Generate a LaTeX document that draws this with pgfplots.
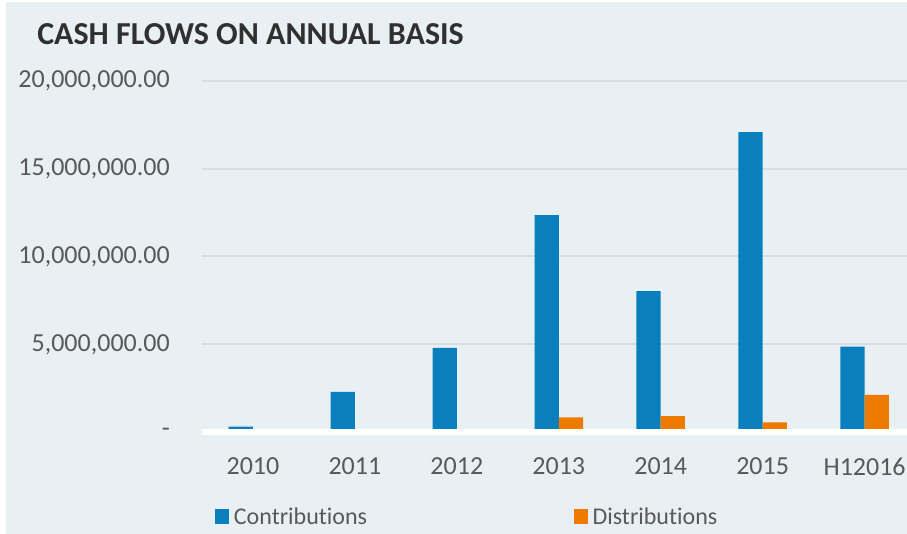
\documentclass[border=0pt]{standalone}
\usepackage{fontspec}
\setmainfont[Ligatures=NoCommon]{Carlito}
\usepackage{pgfplots}
\pgfplotsset{compat=1.18}

\definecolor{bgc}{HTML}{E8F0F3}
\definecolor{gridc}{HTML}{D7DEE2}
\definecolor{txt}{HTML}{595959}
\definecolor{ttl}{HTML}{303030}
\definecolor{contrib}{HTML}{0A7FBD}
\definecolor{distrib}{HTML}{EE7B00}

\begin{document}
\begin{tikzpicture}
\useasboundingbox (0,0) rectangle (680.25pt,400.5pt);
\fill[white] (0,0) rectangle (680.25pt,400.5pt);
\fill[bgc] (4.5pt,0) rectangle (680.25pt,399pt);
\node[anchor=base west, inner sep=0pt, font=\fontsize{24}{26}\selectfont\bfseries, text=ttl]
  at (27.75pt,366.75pt) {CASH FLOWS ON ANNUAL BASIS};
\begin{axis}[
  at={(151.5pt,76.5pt)}, anchor=south west,
  scale only axis,
  width=528.75pt, height=263.25pt,
  xmin=-0.5, xmax=6.416,
  ymin=0, ymax=20e6,
  scaled y ticks=false,
  axis line style={draw=none},
  clip=false,
  ybar=0pt,
  bar width=0.238,
  xtick={0,1,2,3,4,5,6},
  xticklabels={2010,2011,2012,2013,2014,2015,H12016},
  ytick={5e6,10e6,15e6,20e6},
  yticklabels={{5,000,000.00},{10,000,000.00},{15,000,000.00},{20,000,000.00}},
  extra y ticks={0},
  extra y tick labels={-\hspace{9pt}},
  extra y tick style={grid=none},
  ymajorgrids,
  major grid style={draw=gridc, line width=1.5pt},
  major tick length=0pt,
  tick style={draw=none},
  tick label style={font=\fontsize{19.5}{22}\selectfont, text=txt, inner sep=0pt},
  yticklabel style={anchor=east, xshift=-24pt},
  xticklabel style={anchor=north, yshift=-19pt},
  legend columns=2,
  legend style={at={(6.75pt,-63.6pt)}, anchor=west, draw=none, fill=none,
    font=\fontsize{18}{20}\selectfont, text=txt,
    /tikz/every odd column/.style={column sep=1.5pt}},
  legend image code/.code={\fill[#1] (0pt,-5.6pt) rectangle (10.5pt,5.6pt);},
]
\addplot[fill=contrib, draw=none, bar shift=-0.119] coordinates {
  (0,0.30e6) (1,2.28e6) (2,4.79e6) (3,12.36e6) (4,8.02e6) (5,17.09e6) (6,4.86e6)
};
\addlegendentry{\makebox[253pt][l]{Contributions}}
\addplot[fill=distrib, draw=none, bar shift=0.119] coordinates {
  (0,0) (1,0) (2,0) (3,0.84e6) (4,0.91e6) (5,0.55e6) (6,2.11e6)
};
\addlegendentry{Distributions}
\draw[white, line width=4.5pt] (rel axis cs:0,0) -- (rel axis cs:1,0);
\end{axis}
\end{tikzpicture}
\end{document}
